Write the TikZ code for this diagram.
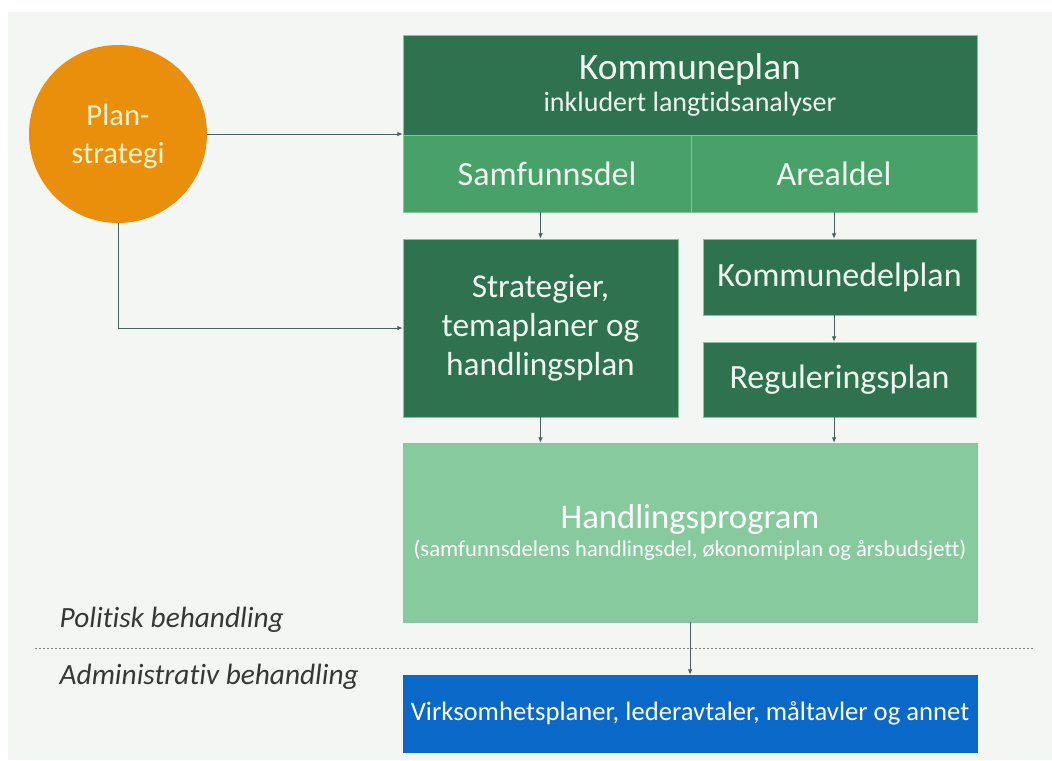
\documentclass[tikz,border=0pt]{standalone}
\usepackage{fontspec}
\setmainfont{Carlito}[Ligatures=NoCommon]
\usepackage{tikz}
\usetikzlibrary{positioning}
\usetikzlibrary{arrows.meta}
\usetikzlibrary{calc}
\definecolor{bggray}{RGB}{243,246,243}
\definecolor{darkgreen}{RGB}{46,114,79}
\definecolor{midgreen}{RGB}{73,161,106}
\definecolor{lightgreen}{RGB}{134,202,158}
\definecolor{planblue}{RGB}{10,104,200}
\definecolor{orange}{RGB}{233,143,12}
\definecolor{cream}{RGB}{253,242,205}
\definecolor{boxtext}{RGB}{240,247,238}
\definecolor{arrowgray}{RGB}{70,98,94}
\definecolor{labelgray}{RGB}{55,55,55}

\begin{document}
\begin{tikzpicture}[x=0.75pt,y=-0.75pt]
			\tikzstyle{plan}=[rectangle, inner sep=0pt, text=boxtext, align=center, draw=white!35!midgreen, line width=0.5pt]
			\tikzstyle{title}=[font=\fontsize{25.5}{29}\selectfont]
			\tikzstyle{link}=[draw=arrowgray, line width=0.7pt, -{Latex[length=4pt,width=3.5pt]}]
			
			\useasboundingbox (0,0) rectangle (1052,760);
			\fill[bggray] (8,12) rectangle (1052,760);
			
			\node at (118,134) [circle, fill=orange, minimum size=133.5pt, inner sep=0pt, text=cream, align=center, font=\fontsize{23}{28.5}\selectfont] (strategi) {\rule{0pt}{20pt}Plan-\\strategi};
			
			\node at (690,85) [plan, fill=darkgreen, minimum width=430.5pt, minimum height=75pt] (komm) {{\fontsize{28}{30}\selectfont Kommuneplan}\\[4pt]{\fontsize{21}{24}\selectfont inkludert langtidsanalyser}};
			\node at (547,173.5) [plan, title, fill=midgreen, minimum width=216pt, minimum height=57.75pt] (samf) {Samfunnsdel};
			\node at (834,173.5) [plan, title, fill=midgreen, minimum width=214.5pt, minimum height=57.75pt] (areal) {Arealdel};
			
			\node at (540.5,328) [plan, fill=darkgreen, minimum width=206.25pt, minimum height=133.5pt, font=\fontsize{25}{29}\selectfont] (strat) {Strategier,\\temaplaner og\\handlingsplan};
			\node at (839.5,277) [plan, title, fill=darkgreen, minimum width=204.75pt, minimum height=57pt] (kdp) {Kommunedelplan};
			\node at (839.5,379.5) [plan, title, fill=darkgreen, minimum width=204.75pt, minimum height=56.25pt] (reg) {Reguleringsplan};
			
			\node at (690,532.5) [plan, fill=lightgreen, text=white, minimum width=430.5pt, minimum height=134.25pt] (hp) {{\fontsize{26}{30}\selectfont Handlingsprogram}\\[3pt]{\fontsize{17}{20}\selectfont (samfunnsdelens handlingsdel, økonomiplan og årsbudsjett)}};
			\node at (690,713.5) [plan, fill=planblue, draw=planblue, text=white, minimum width=430.5pt, minimum height=57.75pt, font=\fontsize{20}{22}\selectfont] (virk) {Virksomhetsplaner, lederavtaler, måltavler og annet};
			
			\node at (55,620) [anchor=west, text=labelgray, font=\itshape\fontsize{22}{26}\selectfont] (pol) {Politisk behandling};
			\node at (55,677) [anchor=west, text=labelgray, font=\itshape\fontsize{22}{26}\selectfont] (adm) {Administrativ behandling};
			\draw[gray, line width=0.6pt, dash pattern=on 1.5pt off 1.5pt] (35,648) -- (1033,648);
			
			\draw [link] (strategi) -- (strategi -| komm.west);
			\draw [link] (strategi.south) |- (strat.west);
			\draw [link] (strat.north |- samf.south) -- (strat.north);
			\draw [link] (areal.south) -- (areal.south |- kdp.north);
			\draw [link] (areal.south |- kdp.south) -- (areal.south |- reg.north);
			\draw [link] (strat.south) -- (strat.south |- hp.north);
			\draw [link] (areal.south |- reg.south) -- (areal.south |- hp.north);
			\draw [link] (hp.south) -- (virk.north);
		\end{tikzpicture}
\end{document}
